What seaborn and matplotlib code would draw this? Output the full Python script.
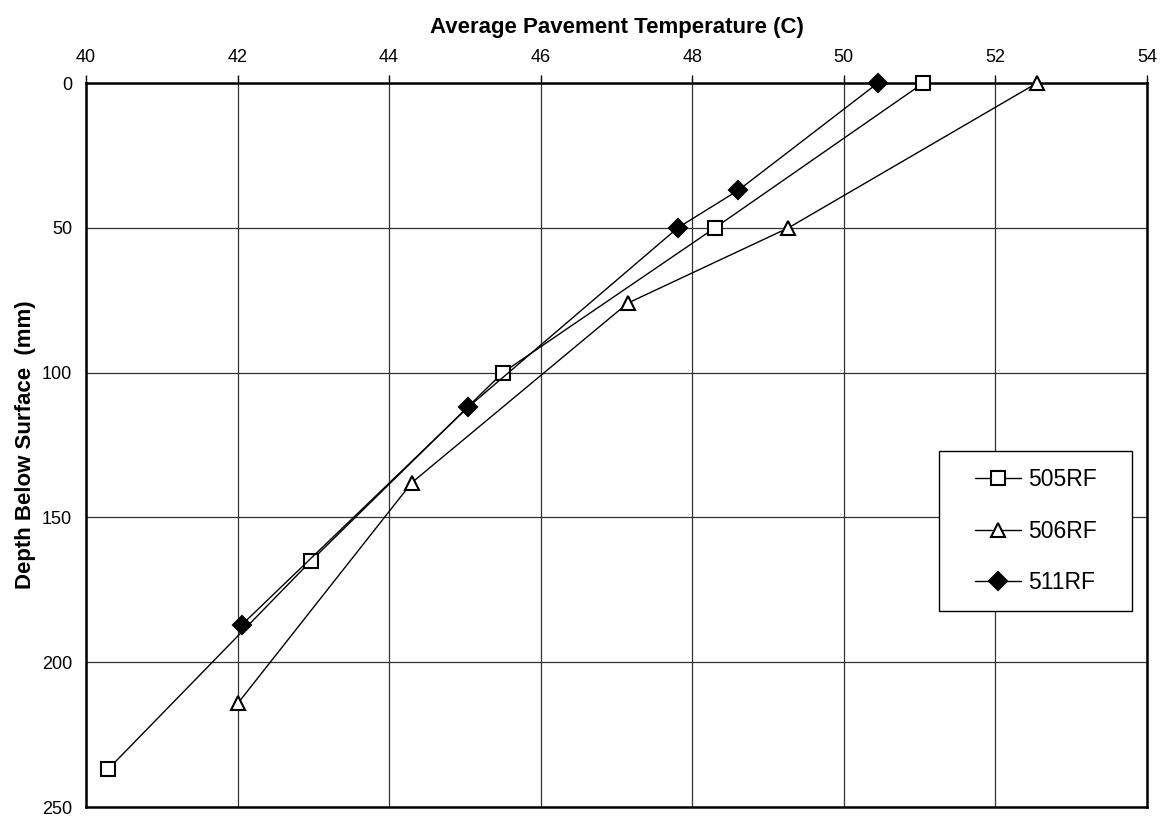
import numpy as np
import pandas as pd
import matplotlib
matplotlib.use("Agg")
import matplotlib.pyplot as plt
from matplotlib.patches import Rectangle
import seaborn as sns

# temperatures (C) and depths (mm)
temp_505 = [51.05, 48.30, 45.50, 42.97, 40.29]
depth_505 = [0, 50, 100, 165, 237]
temp_506 = [52.55, 49.27, 47.15, 44.30, 42.01]
depth_506 = [0, 50, 76, 138, 214]
temp_511 = [50.45, 48.61, 47.81, 45.04, 42.06]
depth_511 = [0, 37, 50, 112, 187]

series = ["505RF", "506RF", "511RF"]
markers = {"505RF": "s", "506RF": "^", "511RF": "D"}
faces = {"505RF": "white", "506RF": "white", "511RF": "black"}
msizes = {"505RF": 10, "506RF": 10, "511RF": 9.5}

df = pd.concat([
    pd.DataFrame({"series": "505RF", "temp": temp_505, "depth": depth_505}),
    pd.DataFrame({"series": "506RF", "temp": temp_506, "depth": depth_506}),
    pd.DataFrame({"series": "511RF", "temp": temp_511, "depth": depth_511}),
])

sns.set_style("white")
plt.rcParams["font.family"] = ["Liberation Sans", "DejaVu Sans"]
plt.rcParams["text.color"] = "black"
plt.rcParams["axes.labelcolor"] = "black"

fig = plt.figure(figsize=(11.63, 8.17), dpi=100)
ax = fig.add_axes([0.0739, 0.0122, 0.9123, 0.8862])

for s in series:
    d = df[df["series"] == s]
    sns.lineplot(data=d, x="temp", y="depth", sort=False, ax=ax, color="black",
                 lw=1, marker=markers[s], markersize=msizes[s],
                 markerfacecolor=faces[s], markeredgecolor="black",
                 markeredgewidth=1.5, label=s, clip_on=False, zorder=5)

ax.set_xlim(40, 54)
ax.set_ylim(250, 0)
ax.set_xticks(np.arange(40, 55, 2))
ax.set_yticks(np.arange(0, 251, 50))
ax.xaxis.tick_top()
ax.xaxis.set_label_position("top")
ax.tick_params(axis="both", direction="out", length=6, width=1, colors="black",
               labelsize=13, pad=4)
ax.tick_params(axis="x", pad=6)
ax.grid(True, color="#333333", lw=0.9)
for sp in ax.spines.values():
    sp.set_visible(True)
    sp.set_color("black")
    sp.set_linewidth(1.8)

ax.set_xlabel("Average Pavement Temperature (C)", fontsize=16, fontweight="bold", labelpad=12)
ax.set_ylabel("Depth Below Surface  (mm)", fontsize=16, fontweight="bold", labelpad=4)

# legend without its own frame; a wider box is drawn behind it (extra side padding)
leg = ax.legend(loc="upper right", bbox_to_anchor=(0.9687, 0.492), fontsize=16.5,
                frameon=False, labelspacing=1.25, handlelength=2.0,
                handletextpad=0.3, borderpad=0.75, borderaxespad=0)
leg.set_zorder(10)

fig.canvas.draw()
bb = leg.get_window_extent().transformed(ax.transAxes.inverted())
side = 18.5 / (ax.get_window_extent().width)
box = Rectangle((bb.x0 - side, bb.y0), bb.width + 2 * side, bb.height,
                transform=ax.transAxes, facecolor="white", edgecolor="black",
                lw=1, zorder=9, clip_on=False)
ax.add_patch(box)

fig.savefig("out.png", dpi=100)
